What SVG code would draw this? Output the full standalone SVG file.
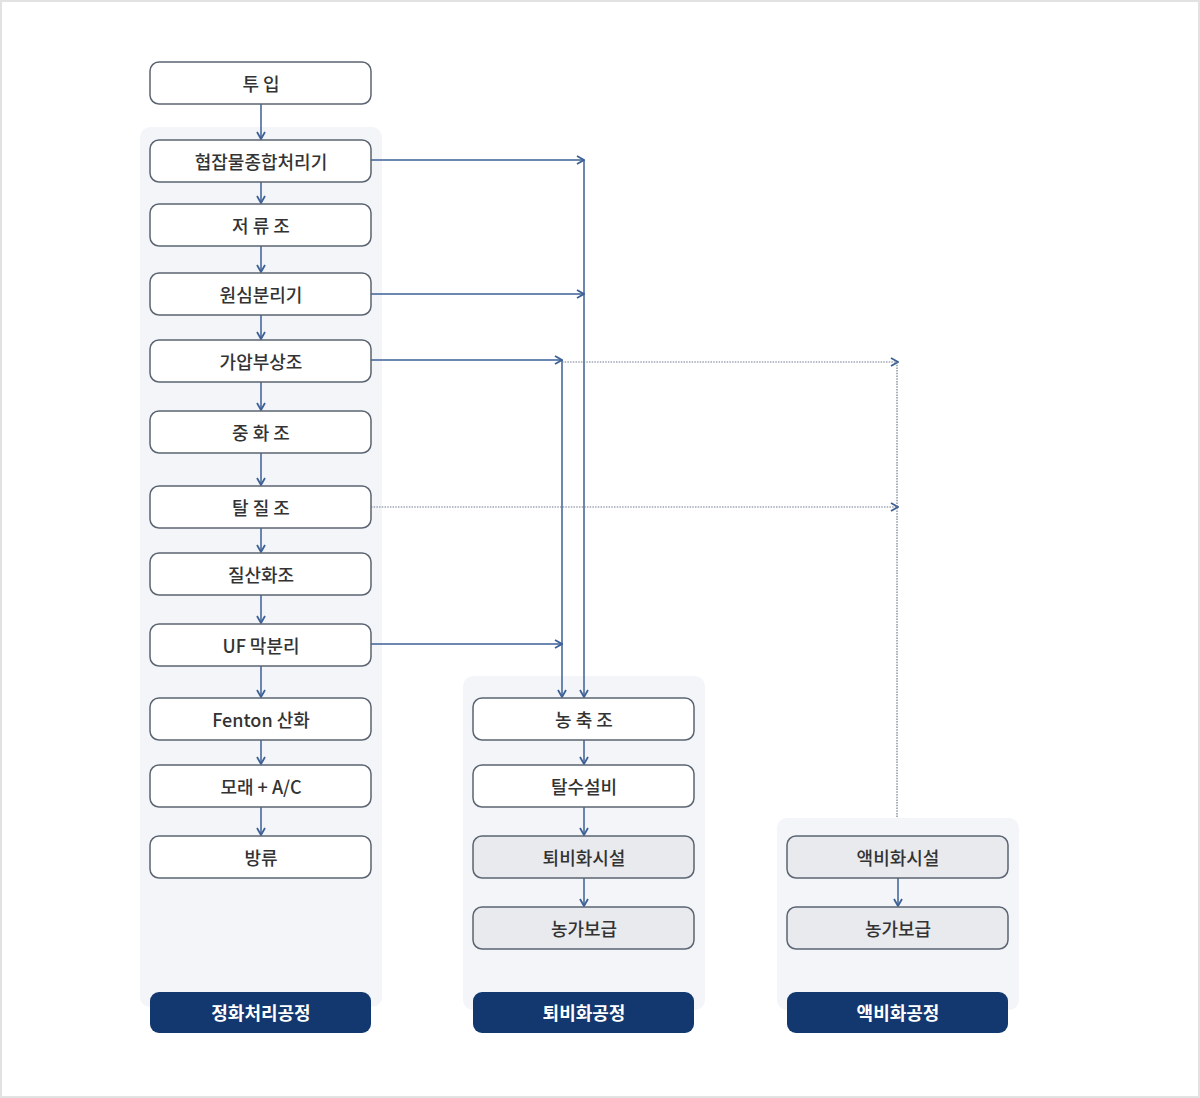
<svg xmlns="http://www.w3.org/2000/svg" width="1200" height="1098" viewBox="0 0 1200 1098">
<style>
.bg{fill:#ffffff;stroke:#e2e2e2;stroke-width:2}
.panel{fill:#f3f5f9}
.n rect{fill:#ffffff;stroke:#5b6472;stroke-width:1.5}
.g rect{fill:#e9eaee;stroke:#5b6472;stroke-width:1.5}
.d rect{fill:#12386f;stroke:none}
text{font-family:"Noto Sans CJK KR","Noto Sans",sans-serif;font-size:18px;font-weight:500;fill:#333;text-anchor:middle;dominant-baseline:central}
.d text{fill:#ffffff;font-weight:bold}
.s{stroke:#3d6196;stroke-width:1.5;fill:none}
.dt{stroke:#6f7c90;stroke-width:1.2;fill:none;stroke-dasharray:1.5 1.2}
</style>
<defs>
<marker id="ar" viewBox="0 0 10 10" refX="9" refY="5" markerWidth="10" markerHeight="10" markerUnits="userSpaceOnUse" orient="auto">
<path d="M2,1 L9,5 L2,9" fill="none" stroke="#3d6196" stroke-width="1.8"/>
</marker>
</defs>
<rect class="bg" x="1" y="1" width="1198" height="1096"/>
<rect class="panel" x="140" y="127" width="242" height="880" rx="10"/>
<rect class="panel" x="463" y="676" width="242" height="334" rx="10"/>
<rect class="panel" x="777" y="818" width="242" height="192" rx="10"/>

<g id="connectors">
<line class="s" x1="261" y1="104" x2="261" y2="139" marker-end="url(#ar)"/>
<line class="s" x1="261" y1="182" x2="261" y2="203" marker-end="url(#ar)"/>
<line class="s" x1="261" y1="246" x2="261" y2="272" marker-end="url(#ar)"/>
<line class="s" x1="261" y1="315" x2="261" y2="339" marker-end="url(#ar)"/>
<line class="s" x1="261" y1="382" x2="261" y2="410" marker-end="url(#ar)"/>
<line class="s" x1="261" y1="453" x2="261" y2="485" marker-end="url(#ar)"/>
<line class="s" x1="261" y1="528" x2="261" y2="552" marker-end="url(#ar)"/>
<line class="s" x1="261" y1="595" x2="261" y2="623" marker-end="url(#ar)"/>
<line class="s" x1="261" y1="666" x2="261" y2="697" marker-end="url(#ar)"/>
<line class="s" x1="261" y1="740" x2="261" y2="764" marker-end="url(#ar)"/>
<line class="s" x1="261" y1="807" x2="261" y2="835" marker-end="url(#ar)"/>
<line class="s" x1="371" y1="160" x2="584" y2="160" marker-end="url(#ar)"/>
<line class="s" x1="371" y1="294" x2="584" y2="294" marker-end="url(#ar)"/>
<line class="s" x1="584" y1="160" x2="584" y2="697" marker-end="url(#ar)"/>
<line class="s" x1="371" y1="360" x2="562" y2="360" marker-end="url(#ar)"/>
<line class="s" x1="371" y1="644" x2="562" y2="644" marker-end="url(#ar)"/>
<line class="s" x1="562" y1="360" x2="562" y2="697" marker-end="url(#ar)"/>
<line class="dt" x1="562" y1="362" x2="897" y2="362"/>
<line class="s" x1="887" y1="362" x2="898" y2="362" stroke-opacity="0" marker-end="url(#ar)"/>
<line class="dt" x1="371" y1="507" x2="897" y2="507"/>
<line class="s" x1="887" y1="507" x2="898" y2="507" stroke-opacity="0" marker-end="url(#ar)"/>
<line class="dt" x1="897" y1="362" x2="897" y2="818"/>
<line class="s" x1="584" y1="740" x2="584" y2="764" marker-end="url(#ar)"/>
<line class="s" x1="584" y1="807" x2="584" y2="835" marker-end="url(#ar)"/>
<line class="s" x1="584" y1="878" x2="584" y2="906" marker-end="url(#ar)"/>
<line class="s" x1="898" y1="878" x2="898" y2="906" marker-end="url(#ar)"/>
</g>

<g id="n-input" class="n"><rect x="150" y="62" width="221" height="42" rx="9"/><text x="261" y="83">투 입</text></g>
<g id="n-screen" class="n"><rect x="150" y="140" width="221" height="42" rx="9"/><text x="261" y="161">협잡물종합처리기</text></g>
<g id="n-storage" class="n"><rect x="150" y="204" width="221" height="42" rx="9"/><text x="261" y="225">저 류 조</text></g>
<g id="n-centrifuge" class="n"><rect x="150" y="273" width="221" height="42" rx="9"/><text x="261" y="294">원심분리기</text></g>
<g id="n-daf" class="n"><rect x="150" y="340" width="221" height="42" rx="9"/><text x="261" y="361">가압부상조</text></g>
<g id="n-neutral" class="n"><rect x="150" y="411" width="221" height="42" rx="9"/><text x="261" y="432">중 화 조</text></g>
<g id="n-denit" class="n"><rect x="150" y="486" width="221" height="42" rx="9"/><text x="261" y="507">탈 질 조</text></g>
<g id="n-nit" class="n"><rect x="150" y="553" width="221" height="42" rx="9"/><text x="261" y="574">질산화조</text></g>
<g id="n-uf" class="n"><rect x="150" y="624" width="221" height="42" rx="9"/><text x="261" y="645">UF 막분리</text></g>
<g id="n-fenton" class="n"><rect x="150" y="698" width="221" height="42" rx="9"/><text x="261" y="719">Fenton 산화</text></g>
<g id="n-sand" class="n"><rect x="150" y="765" width="221" height="42" rx="9"/><text x="261" y="786">모래 + A/C</text></g>
<g id="n-discharge" class="n"><rect x="150" y="836" width="221" height="42" rx="9"/><text x="261" y="857">방류</text></g>
<g id="l-purify" class="d"><rect x="150" y="992" width="221" height="41" rx="9"/><text x="261" y="1012">정화처리공정</text></g>

<g id="n-thicken" class="n"><rect x="473" y="698" width="221" height="42" rx="9"/><text x="584" y="719">농 축 조</text></g>
<g id="n-dewater" class="n"><rect x="473" y="765" width="221" height="42" rx="9"/><text x="584" y="786">탈수설비</text></g>
<g id="n-compost" class="g"><rect x="473" y="836" width="221" height="42" rx="9"/><text x="584" y="857">퇴비화시설</text></g>
<g id="n-farm1" class="g"><rect x="473" y="907" width="221" height="42" rx="9"/><text x="584" y="928">농가보급</text></g>
<g id="l-compost" class="d"><rect x="473" y="992" width="221" height="41" rx="9"/><text x="584" y="1012">퇴비화공정</text></g>

<g id="n-liquid" class="g"><rect x="787" y="836" width="221" height="42" rx="9"/><text x="898" y="857">액비화시설</text></g>
<g id="n-farm2" class="g"><rect x="787" y="907" width="221" height="42" rx="9"/><text x="898" y="928">농가보급</text></g>
<g id="l-liquid" class="d"><rect x="787" y="992" width="221" height="41" rx="9"/><text x="898" y="1012">액비화공정</text></g>
</svg>
